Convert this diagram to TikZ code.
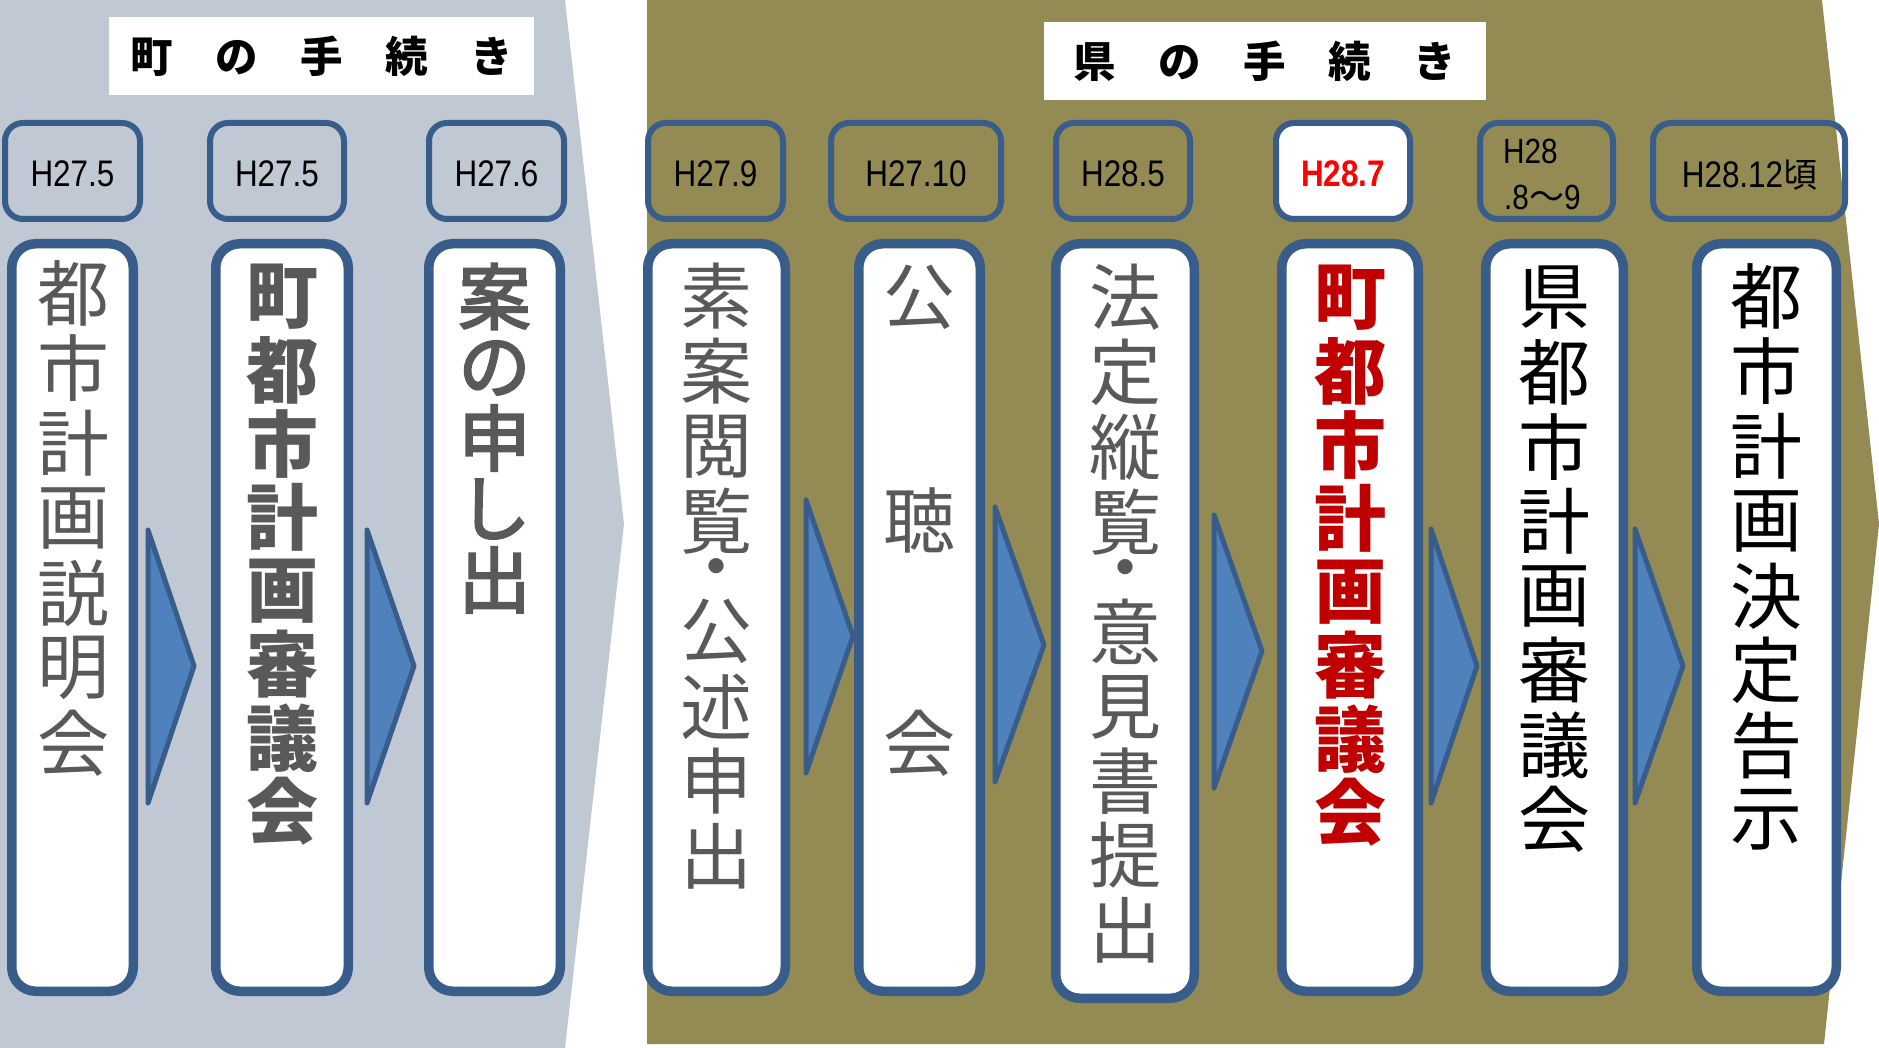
\documentclass[tikz,border=0pt]{standalone}
\usepackage{fontspec}
\newfontfamily\jp{Noto Sans CJK JP}
\newfontfamily\jpmed[FakeBold=3]{Noto Sans CJK JP}
\newfontfamily\datef[FakeStretch=0.85]{Liberation Sans}
\definecolor{lgray}{HTML}{C0C8D4}
\definecolor{olive}{HTML}{948A54}
\definecolor{bord}{HTML}{385D8A}
\definecolor{chev}{HTML}{4F81BD}
\definecolor{txtgray}{HTML}{595959}
\definecolor{darkred}{HTML}{C00000}
\definecolor{brightred}{HTML}{FF0000}
\tikzset{
  tallbox/.style={draw=bord, line width=9.5pt, fill=white, rounded corners=24pt, inner sep=0pt},
  datebox/.style={draw=bord, line width=6pt, rounded corners=18pt, inner sep=0pt, minimum height=96pt},
  chevron/.style={fill=chev, draw=bord, line width=5pt, line join=round},
  vch/.style={inner sep=0pt, font=\jp\fontsize{72}{72}\selectfont},
  vchb/.style={inner sep=0pt, font=\jp\bfseries\fontsize{72}{72}\selectfont},
  vchm/.style={inner sep=0pt, font=\jpmed\fontsize{72}{72}\selectfont},
  datetxt/.style={inner sep=0pt, font=\datef\fontsize{37}{37}\selectfont},
  titlebox/.style={fill=white, inner sep=0pt, font=\jp\bfseries\fontsize{42.5}{42.5}\selectfont}
}
\newcommand\vstack[4]{\foreach \c/\yy [count=\i] in {#4} {\node[#3] (#1c\i) at (#2,\yy) {\c};}}
\begin{document}
\begin{tikzpicture}[x=1pt,y=-1pt]
\useasboundingbox (0,0) rectangle (1879,1048);
\fill[white] (0,0) rectangle (1879,1048);
% panels
\fill[lgray] (0,0) -- (565,0) -- (624,524) -- (565,1048) -- (0,1048) -- cycle;
\fill[olive] (647,0) -- (1822,0) -- (1879,524) -- (1824,1044) -- (647,1044) -- cycle;
% titles
\node[titlebox, minimum width=425pt, minimum height=78pt] (tl) at (321.5,56) {町　の　手　続　き};
\node[titlebox, minimum width=442pt, minimum height=78pt] (tr) at (1265,61) {県　の　手　続　き};
% date boxes
\node[datebox, minimum width=135pt] (d1) at (72.5,171) {};
\node[datebox, minimum width=134pt] (d2) at (277,171) {};
\node[datebox, minimum width=135pt] (d3) at (496.5,171) {};
\node[datebox, minimum width=135pt] (d4) at (715.5,171) {};
\node[datebox, minimum width=170pt] (d5) at (916,171) {};
\node[datebox, minimum width=134pt] (d6) at (1123,171) {};
\node[datebox, minimum width=134pt, fill=white] (d7) at (1343,171) {};
\node[datebox, minimum width=133pt] (d8) at (1546.5,171) {};
\node[datebox, minimum width=192pt] (d9) at (1749,171) {};
\node[datetxt] (d1t) at (72.5,174) {H27.5};
\node[datetxt] (d2t) at (277,174) {H27.5};
\node[datetxt] (d3t) at (496.5,174) {H27.6};
\node[datetxt] (d4t) at (715.5,174) {H27.9};
\node[datetxt] (d5t) at (916,174) {H27.10};
\node[datetxt] (d6t) at (1123,174) {H28.5};
\node[datetxt, text=brightred, font=\datef\bfseries\fontsize{37}{37}\selectfont] (d7t) at (1343,174) {H28.7};
\node[datetxt, anchor=base west, font=\datef\fontsize{35}{35}\selectfont] (d8a) at (1503,164) {H28};
\node[datetxt, anchor=base west, font=\datef\fontsize{35}{35}\selectfont] (d8b) at (1504,210) {.8{\jp\fontsize{35}{35}\selectfont 〜}9};
\node[datetxt] (d9t) at (1749.5,175) {H28.12{\jp\fontsize{34}{34}\selectfont 頃}};
% chevrons
\draw[chevron] (148,530) -- (194,666) -- (148,803) -- cycle;
\draw[chevron] (367,530) -- (414,666) -- (367,803) -- cycle;
\draw[chevron] (806,500) -- (853,636) -- (806,773) -- cycle;
\draw[chevron] (995,507) -- (1044,645) -- (995,782) -- cycle;
\draw[chevron] (1214,515) -- (1262,651) -- (1214,788) -- cycle;
\draw[chevron] (1431,529) -- (1477,666) -- (1431,803) -- cycle;
\draw[chevron] (1635,529) -- (1683,666) -- (1635,803) -- cycle;
% tall boxes
\node[tallbox, minimum width=121.5pt, minimum height=747.5pt] (b1) at (72.5,617.5) {};
\node[tallbox, minimum width=132.5pt, minimum height=747.5pt] (b2) at (282,617.5) {};
\node[tallbox, minimum width=131.5pt, minimum height=747.5pt] (b3) at (494.5,617.5) {};
\node[tallbox, minimum width=137.5pt, minimum height=747.5pt] (b4) at (716.5,617.5) {};
\node[tallbox, minimum width=121.5pt, minimum height=747.5pt] (b5) at (919.5,617.5) {};
\node[tallbox, minimum width=138.5pt, minimum height=754.5pt] (b6) at (1125,621) {};
\node[tallbox, minimum width=136.5pt, minimum height=747.5pt] (b7) at (1350,617.5) {};
\node[tallbox, minimum width=137.5pt, minimum height=747.5pt] (b8) at (1554.5,617.5) {};
\node[tallbox, minimum width=139.5pt, minimum height=747.5pt] (b9) at (1766.5,617.5) {};
% vertical texts
\vstack{b1}{73}{vch, text=txtgray}{都/293,市/368,計/443,画/518,説/593,明/668,会/743}
\vstack{b2}{282}{vchb, text=txtgray}{町/297,都/370.5,市/444,計/517.5,画/591,審/664.5,議/738,会/811.5}
\vstack{b3}{494.5}{vchm, text=txtgray}{案/296.5,の/368,申/438,し/509,出/580}
\vstack{b4}{716.5}{vch, text=txtgray}{素/296.5,案/371.5,閲/446.5,覧/521.5,・/576.5,公/631.5,述/706.5,申/781.5,出/856.5}
\vstack{b5}{919.5}{vch, text=txtgray}{公/297.5,聴/520,会/743.5}
\vstack{b6}{1125}{vch, text=txtgray}{法/297.5,定/372.5,縦/447.5,覧/522.5,・/577.5,意/632,見/707.5,書/781.5,提/855.5,出/930}
\vstack{b7}{1350}{vchb, text=darkred}{町/298,都/371.5,市/445,計/518.5,画/592,審/665.5,議/739,会/812.5}
\vstack{b8}{1554.5}{vch, text=black}{県/298,都/372.5,市/447,計/521.5,画/596,審/670.5,議/745,会/819.5}
\vstack{b9}{1766.5}{vch, text=black}{都/296.5,市/371.5,計/446,画/521,決/596,定/670.5,告/745,示/819.5}
\end{tikzpicture}
\end{document}
